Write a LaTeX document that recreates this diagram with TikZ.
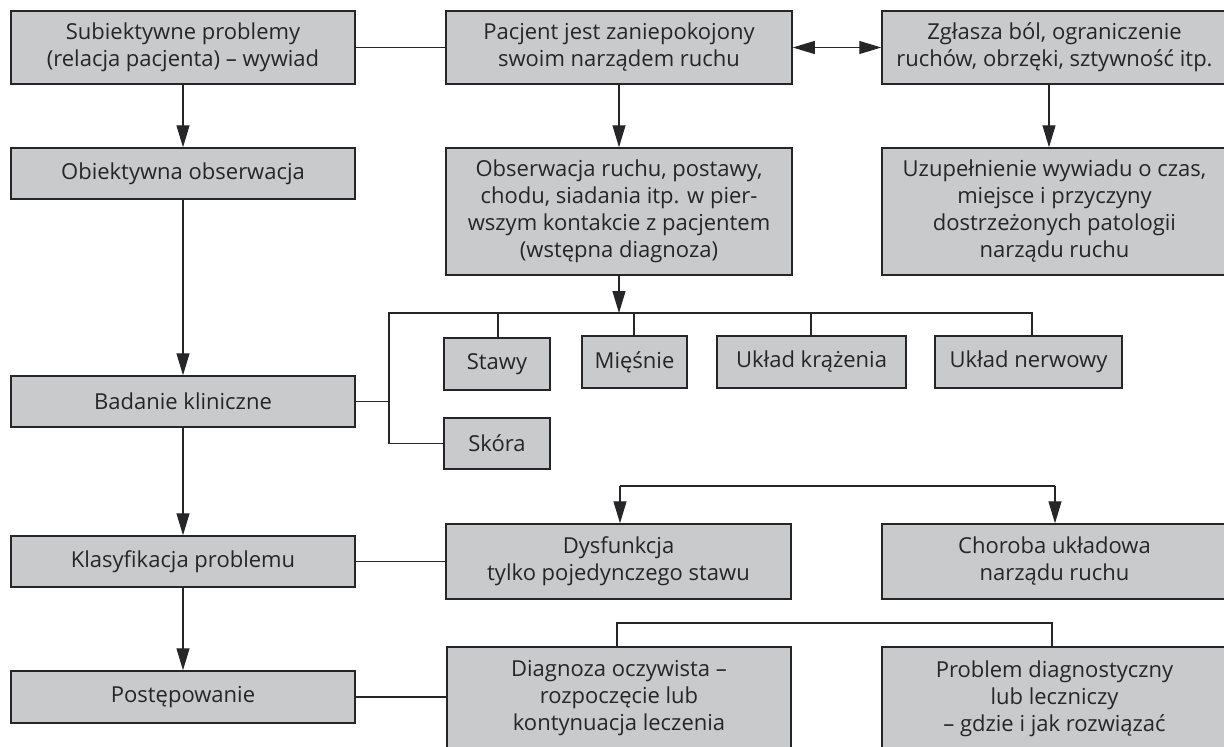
\documentclass[tikz,border=0pt]{standalone}
\usepackage{fontspec}
\setmainfont{Open Sans}
\usetikzlibrary{arrows.meta}
\definecolor{boxfill}{RGB}{201,202,204}
\definecolor{ink}{RGB}{38,38,40}
\begin{document}
\begin{tikzpicture}[x=1pt,y=-1pt,
  box/.style={draw=ink, line width=1.5pt, fill=boxfill, text=ink, align=center, inner sep=0pt,
    font=\fontsize{22}{27}\selectfont},
  conn/.style={draw=ink, line width=1.2pt},
  tip/.tip={Triangle[length=22pt,width=13pt]},
  arr/.style={conn, -tip},
]
\useasboundingbox (0,0) rectangle (1224,747);
\clip (0,0) rectangle (1224,747);

% left column
\node[box, minimum width=344pt, minimum height=73pt] (sub) at (183,47.5) {Subiektywne problemy\\(relacja pacjenta) – wywiad};
\node[box, minimum width=344pt, minimum height=51pt] (obj) at (183,173.5) {Obiektywna obserwacja};
\node[box, minimum width=344pt, minimum height=51pt] (bad) at (183,401.5) {Badanie kliniczne};
\node[box, minimum width=344pt, minimum height=51pt] (kla) at (183,561.5) {Klasyfikacja problemu};
\node[box, minimum width=344pt, minimum height=52pt] (pos) at (183,697) {Postępowanie};

% middle column
\node[box, minimum width=346pt, minimum height=73pt] (pac) at (619,47.5) {Pacjent jest zaniepokojony\\swoim narządem ruchu};
\node[box, minimum width=346pt, minimum height=127pt] (obs) at (619,211.5) {Obserwacja ruchu, postawy,\\chodu, siadania itp. w pier-\\wszym kontakcie z pacjentem\\(wstępna diagnoza)};

% right column
\node[box, minimum width=345pt, minimum height=73pt] (zgl) at (1054.5,47.5) {Zgłasza ból, ograniczenie\\ruchów, obrzęki, sztywność itp.};
\node[box, minimum width=345pt, minimum height=127pt] (uzu) at (1054.5,211.5) {Uzupełnienie wywiadu o czas,\\miejsce i przyczyny\\dostrzeżonych patologii\\narządu ruchu};

% small boxes
\node[box, minimum width=106pt, minimum height=52pt] (stawy) at (497,364) {Stawy};
\node[box, minimum width=106pt, minimum height=51pt] (skora) at (497,443.5) {Skóra};
\node[box, minimum width=105pt, minimum height=52pt] (miesnie) at (634.5,362) {Mięśnie};
\node[box, minimum width=189pt, minimum height=52pt] (ukr) at (811.5,362) {Układ krążenia};
\node[box, minimum width=187pt, minimum height=52pt] (une) at (1028.5,362) {Układ nerwowy};

% lower boxes
\node[box, minimum width=345pt, minimum height=75pt] (dys) at (618.5,561.5) {Dysfunkcja\\tylko pojedynczego stawu};
\node[box, minimum width=345pt, minimum height=75pt] (cho) at (1054.5,561.5) {Choroba układowa\\narządu ruchu};
\node[box, minimum width=344pt, minimum height=103pt] (dia) at (619,698.5) {Diagnoza oczywista –\\rozpoczęcie lub\\kontynuacja leczenia};
\node[box, minimum width=345pt, minimum height=103pt] (pro) at (1054.5,698.5) {Problem diagnostyczny\\lub leczniczy\\– gdzie i jak rozwiązać};

% connectors top
\draw[conn] (sub.east) -- (pac.west);
\draw[conn, tip-tip] (pac.east) -- (zgl.west);
\draw[arr] (sub.south) -- (obj.north);
\draw[arr] (obj.south) -- (bad.north);
\draw[arr] (bad.south) -- (kla.north);
\draw[arr] (kla.south) -- (pos.north);
\draw[arr] (pac.south) -- (obs.north);
\draw[arr] (1049,0 |- zgl.south) -- (1049,0 |- uzu.north);

% examination bus
\coordinate (busL) at (389,313);
\coordinate (busR) at (1032,313);
\draw[arr] (obs.south) -- (obs.south |- busL);
\draw[conn] (bad.east) -- (bad.east -| busL);
\draw[conn] (busR |- une.north) -- (busR) -- (busL) -- (busL |- skora.west) -- (skora.west);
\draw[conn] (498,0 |- busL) -- (498,0 |- stawy.north);
\draw[conn] (634,0 |- busL) -- (634,0 |- miesnie.north);
\draw[conn] (811,0 |- busL) -- (811,0 |- ukr.north);

% classification bracket
\coordinate (b1L) at (620,486);
\coordinate (b1R) at (1055,486);
\draw[conn] (b1L) -- (b1R);
\draw[arr] (b1L) -- (b1L |- dys.north);
\draw[arr] (b1R) -- (b1R |- cho.north);
\draw[conn] (kla.east) -- (dys.west);

% management bracket
\coordinate (b2L) at (617,623);
\coordinate (b2R) at (1052,623);
\draw[conn] (b2L |- dia.north) -- (b2L) -- (b2R) -- (b2R |- pro.north);
\draw[conn] (pos.east) -- (pos.east -| dia.west);
\end{tikzpicture}
\end{document}
